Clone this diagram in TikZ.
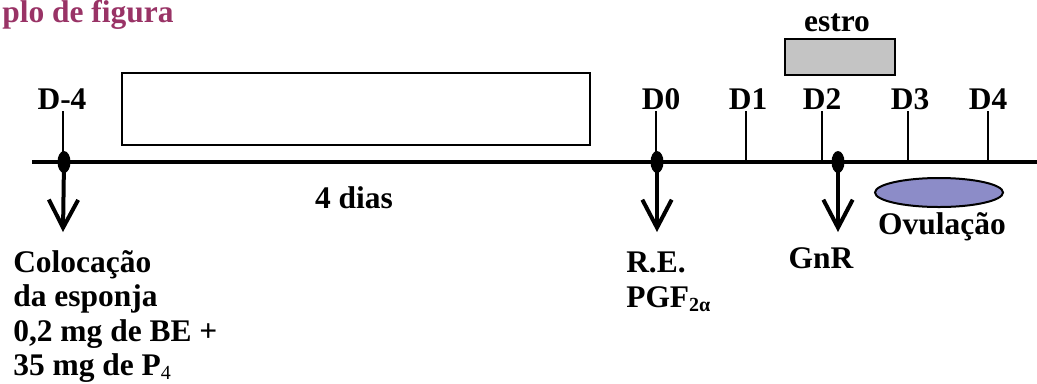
\documentclass[tikz,border=0pt]{standalone}
\usepackage{fontspec}
\setmainfont{Liberation Serif}
\usetikzlibrary{arrows.meta,shapes.geometric}
\definecolor{titlecol}{RGB}{153,51,102}
\definecolor{estrofill}{RGB}{196,196,196}
\definecolor{ovfill}{RGB}{140,140,200}
\newcommand{\subsm}[1]{\raisebox{-0.14em}{\fontsize{15}{15}\selectfont #1}}
\begin{document}
\begin{tikzpicture}[x=0.75pt,y=-0.75pt,
  lbl/.style={font=\fontsize{23.6}{26}\selectfont\bfseries, inner sep=0pt},
  tickline/.style={line width=0.8pt},
  dotmark/.style={ellipse, fill=black, minimum width=9.75pt, minimum height=16.5pt, inner sep=0pt},
  event/.style={line width=3pt, -{Straight Barb[length=21pt,width=22pt]}}]
\useasboundingbox (0,0) rectangle (1037,383);

% title
\node[lbl, text=titlecol, anchor=base west] (title) at (2,22) {plo de figura};

% boxes
\node[draw, line width=1.2pt, inner sep=0pt, minimum width=351pt, minimum height=54pt] (sponge) at (356,109) {};
\node[draw, line width=1.5pt, fill=estrofill, inner sep=0pt, minimum width=82.5pt, minimum height=27pt] (estrobox) at (840,57) {};
\node[lbl, anchor=base] (estro) at (837,31) {estro};

% axis
\coordinate (axL) at (32,162);
\coordinate (axR) at (1037,162);
\draw[line width=3pt] (axL) -- (axR);

% day labels and ticks
\node[lbl, anchor=base] (lDm4) at (62,109) {D-4};
\node[lbl, anchor=base] (lD0) at (661,109) {D0};
\node[lbl, anchor=base] (lD1) at (748,109) {D1};
\node[lbl, anchor=base] (lD2) at (822,109) {D2};
\node[lbl, anchor=base] (lD3) at (910,109) {D3};
\node[lbl, anchor=base] (lD4) at (988,109) {D4};

\foreach \n/\x in {m4/63, 0/656, 1/746, 2/822, 3/908, 4/988}{
  \coordinate (tt\n) at (\x,111);
  \coordinate (tb\n) at (\x,162);
  \draw[tickline] (tt\n) -- (tb\n);
}

% event dots and arrows
\node[dotmark] (dm4) at (64,162) {};
\node[dotmark] (d0) at (657,162) {};
\node[dotmark] (d2) at (838,162) {};
\coordinate (am4) at (63,232);
\coordinate (a0) at (657,232);
\coordinate (a2) at (838,232);
\draw[event] (dm4.center) -- (am4);
\draw[event] (d0.center) -- (a0);
\draw[event] (d2.center) -- (a2);

% ovulation
\node[ellipse, draw, line width=1.5pt, fill=ovfill, inner sep=0pt, minimum width=96pt, minimum height=21.75pt] (ovell) at (939,192.5) {};
\node[lbl, anchor=base] (ovul) at (942,234) {Ovulação};

% texts
\node[lbl, anchor=base] (dias) at (354,208) {4 dias};
\node[lbl, anchor=base] (gnr) at (821,268) {GnR};
\node[lbl, anchor=base west] (re) at (626,272) {R.E.};
\node[lbl, anchor=base west] (pgf) at (626,307) {PGF\subsm{2α}};

\node[lbl, anchor=base west] (col1) at (13,272) {Colocação};
\node[lbl, anchor=base west] (col2) at (13,306) {da esponja};
\node[lbl, anchor=base west] (col3) at (13,341) {0,2 mg de BE +};
\node[lbl, anchor=base west] (col4) at (13,375) {35 mg de P\subsm{\mdseries 4}};
\end{tikzpicture}
\end{document}
